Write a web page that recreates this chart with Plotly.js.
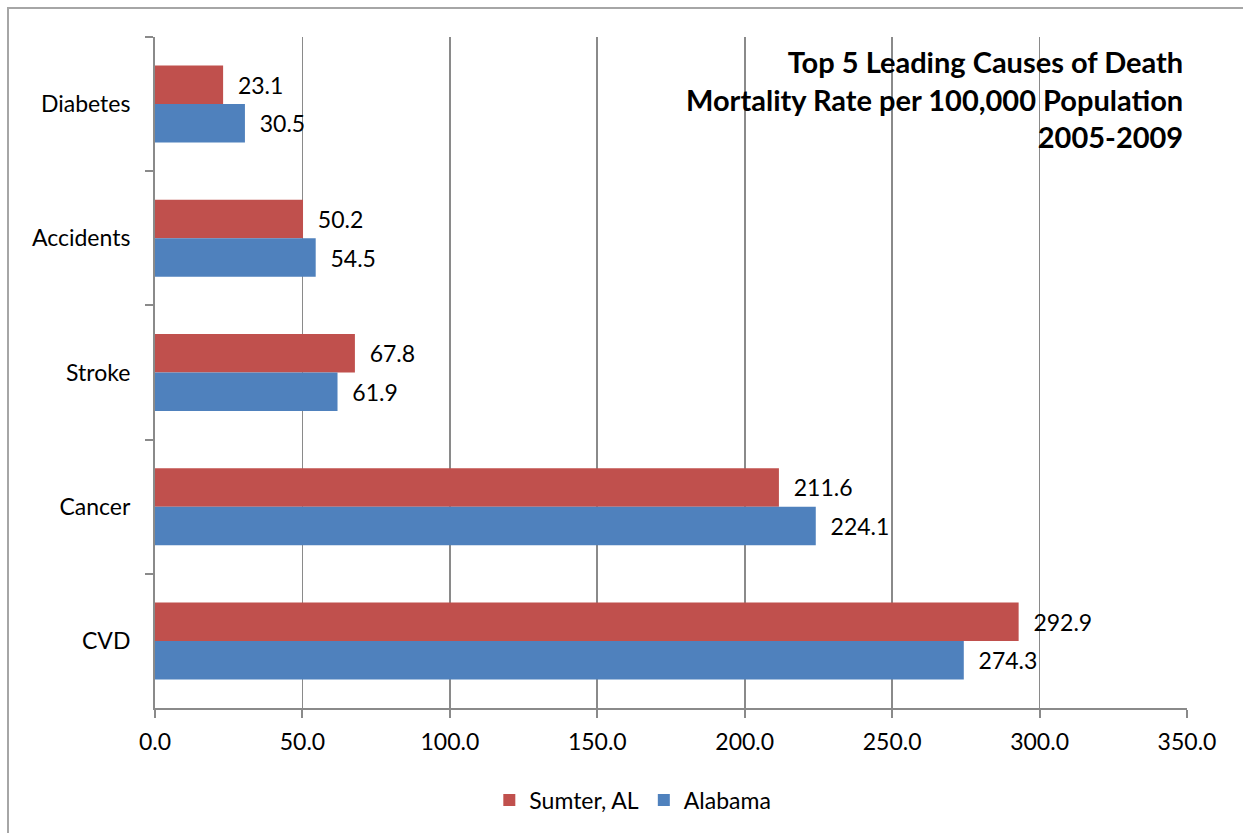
<!DOCTYPE html>
<html>
<head>
<meta charset="utf-8">
<script src="https://cdn.plot.ly/plotly-3.0.1.min.js"></script>
<style>
  html, body { margin: 0; padding: 0; background: #fff; }
  #chart { width: 1243px; height: 833px; }
  #frame { position: absolute; left: 7px; top: 7px; width: 1300px; height: 900px;
           border-left: 2px solid #a6a6a6; border-top: 2px solid #a6a6a6; pointer-events: none; }
</style>
</head>
<body>
<div id="chart"></div>
<div id="frame"></div>
<script>
const categories = ["Diabetes", "Accidents", "Stroke", "Cancer", "CVD"];
const sumterValues = [23.1, 50.2, 67.8, 211.6, 292.9];
const alabamaValues = [30.5, 54.5, 61.9, 224.1, 274.3];
const seriesNames = ["Sumter, AL", "Alabama"];
const xTickValues = [0, 50, 100, 150, 200, 250, 300, 350];
const xTickLabels = ["0.0", "50.0", "100.0", "150.0", "200.0", "250.0", "300.0", "350.0"];
const titleLines = ["Top 5 Leading Causes of Death", "Mortality Rate per 100,000 Population", "2005-2009"];

const FONT = "Lato, 'Open Sans', sans-serif";
const pad = "\u00a0\u00a0";

function barTrace(name, values, color) {
  return {
    type: "bar",
    orientation: "h",
    name: name,
    y: categories,
    x: values,
    marker: { color: color, line: { width: 0 } },
    text: values.map(v => pad + v.toFixed(1)),
    textposition: "outside",
    cliponaxis: false,
    textfont: { family: FONT, size: 23, color: "#000" },
    hoverinfo: "x+name"
  };
}

const data = [
  barTrace(seriesNames[0], sumterValues, "#C0504D"),
  barTrace(seriesNames[1], alabamaValues, "#4F81BD")
];

const layout = {
  width: 1243,
  height: 833,
  margin: { l: 155, r: 56, t: 37, b: 125 },
  paper_bgcolor: "#fff",
  plot_bgcolor: "#fff",
  barmode: "group",
  bargap: 0.426,
  bargroupgap: 0,
  font: { family: FONT, size: 23, color: "#000" },
  showlegend: true,
  legend: {
    orientation: "h",
    x: 0.463, xanchor: "center",
    y: -0.105, yanchor: "top",
    font: { family: FONT, size: 23, color: "#000" },
    itemwidth: 30,
    tracegroupgap: 0
  },
  xaxis: {
    range: [0, 350],
    tickvals: xTickValues,
    ticktext: xTickLabels,
    showgrid: true,
    gridcolor: "#8a8a8a",
    gridwidth: 1.6,
    zeroline: false,
    showline: true,
    linecolor: "#8a8a8a",
    linewidth: 2,
    ticks: "outside",
    ticklen: 8,
    tickwidth: 2,
    tickcolor: "#8a8a8a",
    tickfont: { family: FONT, size: 23, color: "#000" },
    ticklabelstandoff: 4,
    mirror: false,
    fixedrange: true
  },
  yaxis: {
    type: "category",
    categoryorder: "array",
    categoryarray: categories,
    autorange: "reversed",
    showgrid: false,
    zeroline: false,
    showline: true,
    linecolor: "#8a8a8a",
    linewidth: 2,
    ticks: "outside",
    tickson: "boundaries",
    ticklen: 8,
    tickwidth: 2,
    tickcolor: "#8a8a8a",
    tickfont: { family: FONT, size: 23, color: "#000" },
    ticklabelstandoff: 18,
    fixedrange: true
  },
  annotations: [{
    xref: "paper", yref: "paper",
    x: 0.9985, y: 0.993,
    xanchor: "right", yanchor: "top",
    align: "right",
    showarrow: false,
    text: titleLines.map(s => "<b>" + s + "</b>").join("<br>"),
    font: { family: FONT, size: 29, color: "#000" }
  }]
};

Plotly.newPlot("chart", data, layout, { displayModeBar: false, staticPlot: true });
</script>
</body>
</html>
